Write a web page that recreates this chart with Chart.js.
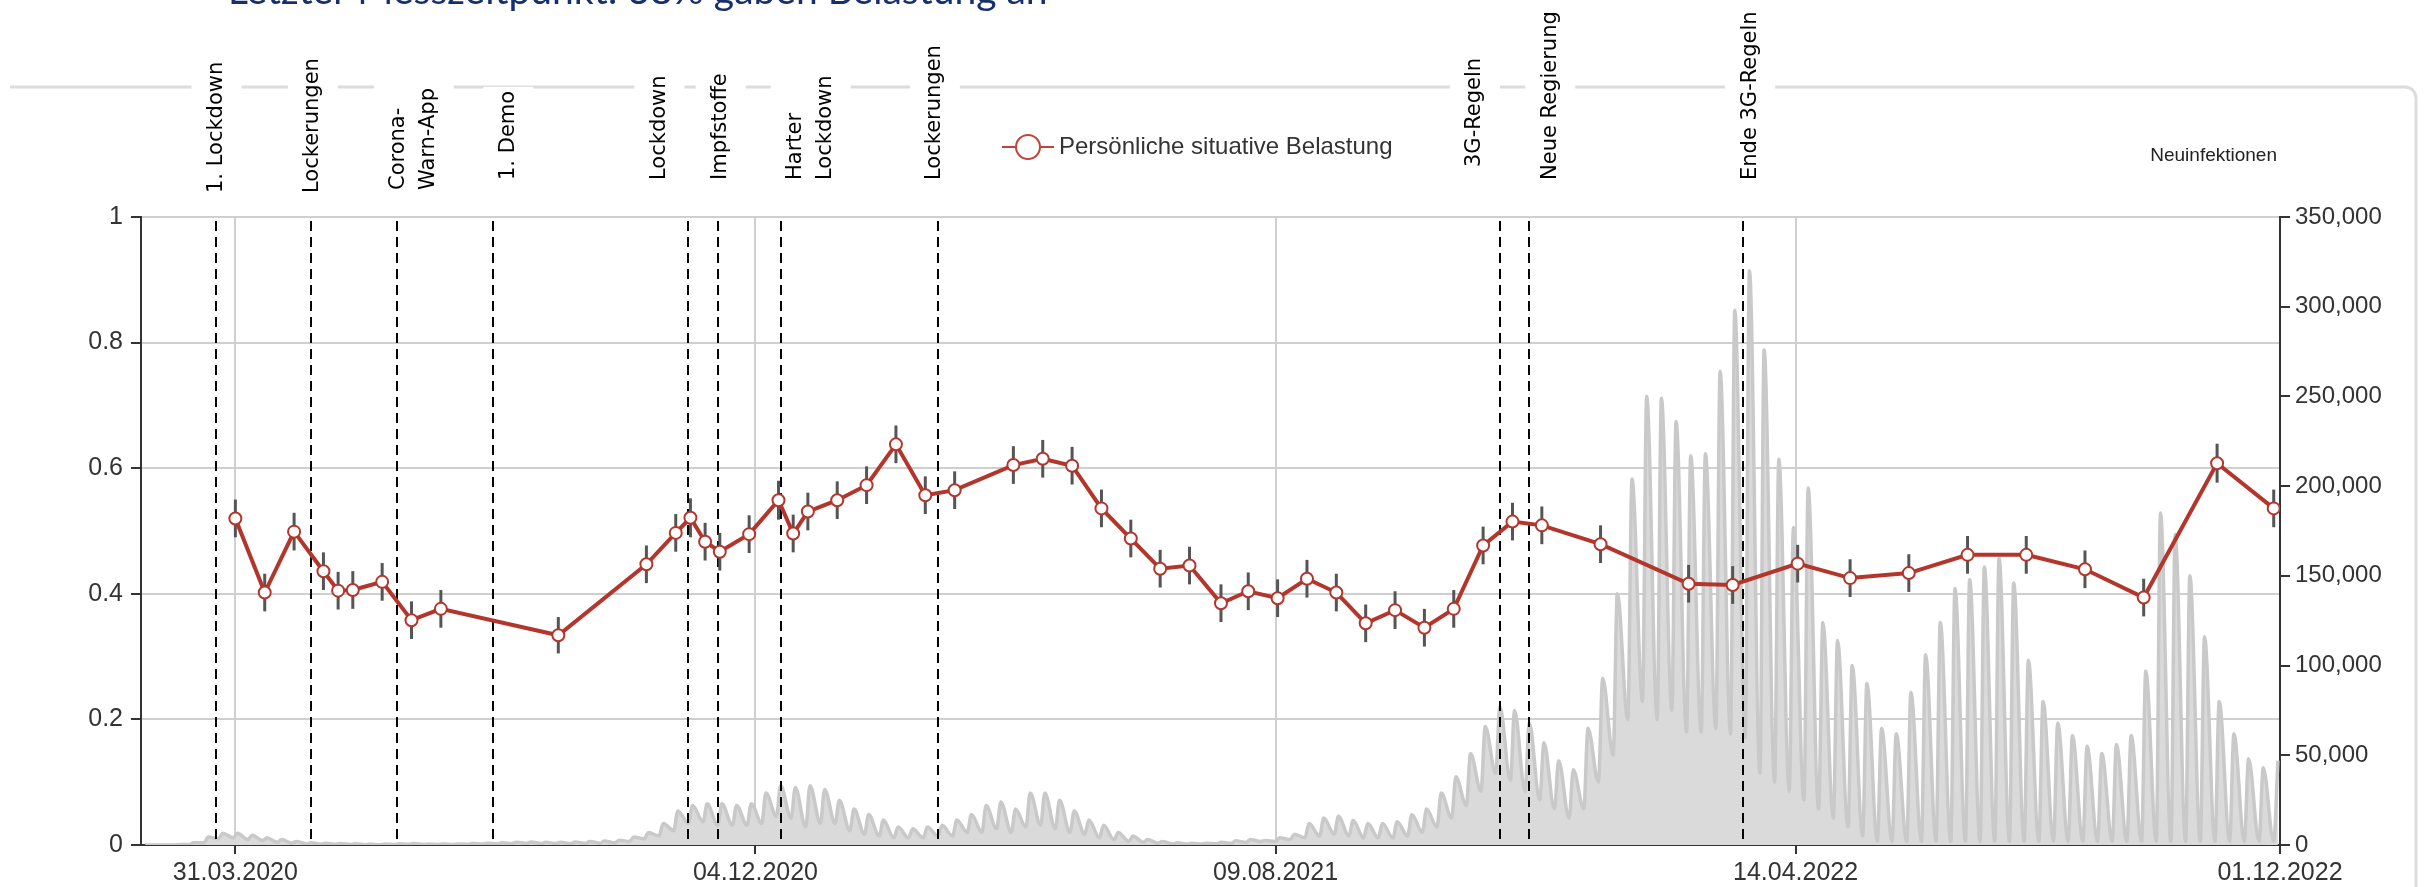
<!DOCTYPE html>
<html>
<head>
<meta charset="utf-8">
<script src="https://cdn.jsdelivr.net/npm/chart.js@4.4.1/dist/chart.umd.min.js"></script>
<style>
  html, body { margin: 0; padding: 0; background: #fff; overflow: hidden; }
  #wrap { position: relative; width: 2425px; height: 887px; }
</style>
</head>
<body>
<div id="wrap"><canvas id="c" width="2425" height="887"></canvas></div>
<script>
// Survey waves: date and share reporting a personal situational burden (with error margin)
const surveyDates = [
  '2020-03-31','2020-04-14','2020-04-28','2020-05-12','2020-05-19','2020-05-26','2020-06-09','2020-06-23','2020-07-07','2020-09-01',
  '2020-10-13','2020-10-27','2020-11-03','2020-11-10','2020-11-17','2020-12-01','2020-12-15','2020-12-22','2020-12-29','2021-01-12',
  '2021-01-26','2021-02-09','2021-02-23','2021-03-09','2021-04-06','2021-04-20','2021-05-04','2021-05-18','2021-06-01','2021-06-15',
  '2021-06-29','2021-07-14','2021-07-27','2021-08-10','2021-08-24','2021-09-07','2021-09-21','2021-10-05','2021-10-19','2021-11-02',
  '2021-11-16','2021-11-30','2021-12-14','2022-01-11','2022-02-22','2022-03-15','2022-04-15','2022-05-10','2022-06-07','2022-07-05',
  '2022-08-02','2022-08-30','2022-09-27','2022-11-01','2022-11-28'
];
const burden = [
  0.520,0.402,0.499,0.436,0.405,0.406,0.419,0.358,0.376,0.334,
  0.447,0.497,0.521,0.483,0.467,0.495,0.549,0.496,0.531,0.549,
  0.573,0.638,0.557,0.565,0.605,0.615,0.604,0.536,0.488,0.440,
  0.445,0.385,0.404,0.393,0.424,0.402,0.353,0.374,0.346,0.376,
  0.477,0.515,0.509,0.479,0.416,0.414,0.448,0.425,0.433,0.462,
  0.462,0.439,0.394,0.608,0.536
];
const burdenErr = [
  0.030,0.030,0.030,0.030,0.030,0.030,0.030,0.030,0.030,0.029,
  0.030,0.030,0.031,0.030,0.030,0.030,0.031,0.030,0.030,0.030,
  0.030,0.030,0.030,0.030,0.030,0.030,0.030,0.030,0.030,0.030,
  0.030,0.030,0.030,0.030,0.030,0.030,0.030,0.030,0.030,0.030,
  0.030,0.030,0.030,0.030,0.030,0.030,0.030,0.030,0.030,0.030,
  0.030,0.030,0.030,0.031,0.030
];

// Daily new infections, weekly low (Monday) and weekly high (Wednesday), in thousands
const infWeekStart = '2020-02-17';
const infLowK = [
  0,0,0.05,0.3,1.2,3.5,4,3,2.5,1.5,
  1,0.6,0.4,0.4,0.3,0.2,0.2,0.3,0.4,0.3,
  0.3,0.3,0.4,0.5,0.6,0.8,0.9,0.8,0.8,0.8,
  0.9,1,1.2,2,3.5,5,8,12,13,11,
  11,11,12,16,15,10,12,12,8,6,
  5,4,4,4,5,5,7,7,9,7,
  10,11,9,7,6,4,3,2,1.5,1,
  0.5,0.5,0.5,0.7,1,1.5,2,2,3,4,
  5,6,5,4,4,4,5,7,10,15,
  22,30,40,36,30,25,20,15,20,35,
  50,70,80,70,75,63,63,65,62,60,
  40,35,30,25,20,15,10,5,2,2,
  2,2,2,2,2,2,2,2,2,2,
  2,2,2,2,2,2,2,2,2,2,
  2,2,2,2,2,2
];
const infHighK = [
  0,0.05,0.2,1.2,4.5,6.5,6.5,5.5,4,3,
  2,1.3,1,0.8,0.7,0.5,0.5,0.7,0.8,0.5,
  0.5,0.6,0.8,1,1.2,1.5,1.7,1.6,1.5,1.7,
  2,2.2,2.6,4.5,7,12,19,22,23,23,
  22,23,29,33,32,33,31,25,20,17,
  14,10,9,10,11,14,17,22,24,20,
  29,29,25,19,14,11,7,5,3,2,
  1.2,1,1,1.6,2.3,3,2.5,4,6,12,
  15,16,13.7,12,12,13,17,20,29,38,
  51,66,77,75,68,57,47,42,65,93,
  140,204,250,249,236,217,218,264,298,320,
  276,215,177,199,124,114,100,90,65,62,
  85,106,124,143,148,155,160,146,103,80,
  68,61,55,51,56,61,97,185,173,150,
  116,80,62,48,43,47
];

// Political events marked in the timeline
const eventDates = ['2020-03-22','2020-05-06','2020-06-16','2020-08-01','2020-11-02','2020-11-16','2020-12-16','2021-03-01','2021-11-24','2021-12-08','2022-03-20'];
const eventLabels = [
  ['1. Lockdown'], ['Lockerungen'], ['Corona-', 'Warn-App'], ['1. Demo'], ['Lockdown'], ['Impfstoffe'],
  ['Harter', 'Lockdown'], ['Lockerungen'], ['3G-Regeln'], ['Neue Regierung'], ['Ende 3G-Regeln']
];

// Axis ticks
const xTickDates = ['2020-03-31','2020-12-04','2021-08-09','2022-04-14','2022-12-01'];
const xTickLabels = ['31.03.2020','04.12.2020','09.08.2021','14.04.2022','01.12.2022'];
const xRange = ['2020-02-15','2022-12-01'];
const yLeftTicks = [0, 0.2, 0.4, 0.6, 0.8, 1];
const yLeftLabels = ['0','0.2','0.4','0.6','0.8','1'];
const yRightTicks = [0, 50000, 100000, 150000, 200000, 250000, 300000, 350000];
const yRightLabels = ['0','50,000','100,000','150,000','200,000','250,000','300,000','350,000'];

const TITLE = 'Letzter Messzeitpunkt: 38% gaben Belastung an';
const SERIES_NAME = 'Persönliche situative Belastung';
const RIGHT_TITLE = 'Neuinfektionen';

// ---------------------------------------------------------------------------
const dayNum = s => Date.UTC(+s.slice(0, 4), +s.slice(5, 7) - 1, +s.slice(8, 10)) / 86400000;

const burdenPoints = surveyDates.map((d, i) => ({ x: dayNum(d), y: burden[i] }));
const infPoints = [];
const w0 = dayNum(infWeekStart);
infLowK.forEach((lo, i) => {
  infPoints.push({ x: w0 + 7 * i, y: lo * 1000 });
  infPoints.push({ x: w0 + 7 * i + 2, y: infHighK[i] * 1000 });
});

const RED = '#b3362c';
const FONT = '"Liberation Sans", Arial, sans-serif';

// styling of the event annotation labels (horizontal shift, text start height)
const labelShift = [0, 2, 17, 15, -29, 3, 30, -3, -25, 21, 7];
const labelBottom = [193, 193, 190, 180, 180, 180, 180, 180, 167, 180, 180];

const decor = {
  id: 'decor',
  beforeDraw(chart) {
    const ctx = chart.ctx;
    ctx.save();
    // panel outline
    ctx.strokeStyle = '#dcdcdc';
    ctx.lineWidth = 3;
    ctx.beginPath();
    ctx.moveTo(10, 87);
    ctx.lineTo(2405, 87);
    ctx.arcTo(2416, 87, 2416, 98, 11);
    ctx.lineTo(2416, 890);
    ctx.stroke();
    // headline
    ctx.fillStyle = '#17306c';
    ctx.font = '39px Lato, "Open Sans", sans-serif';
    ctx.textBaseline = 'alphabetic';
    ctx.textAlign = 'left';
    ctx.fillText(TITLE, 228, 4);
    ctx.restore();
  },
  afterDatasetDraw(chart, args) {
    if (args.index !== 0) return;
    const ctx = chart.ctx, xs = chart.scales.x, area = chart.chartArea;
    ctx.save();
    ctx.strokeStyle = '#000';
    ctx.lineWidth = 2;
    ctx.setLineDash([10, 6]);
    eventDates.forEach(d => {
      const x = Math.round(xs.getPixelForValue(dayNum(d)));
      ctx.beginPath();
      ctx.moveTo(x, area.top + 4);
      ctx.lineTo(x, area.bottom);
      ctx.stroke();
    });
    ctx.restore();
  },
  beforeDatasetDraw(chart, args) {
    if (args.index !== 1) return;
    const ctx = chart.ctx, xs = chart.scales.x, ys = chart.scales.y;
    ctx.save();
    ctx.strokeStyle = '#555';
    ctx.lineWidth = 3;
    burdenPoints.forEach((p, i) => {
      const x = xs.getPixelForValue(p.x);
      ctx.beginPath();
      ctx.moveTo(x, ys.getPixelForValue(p.y - burdenErr[i]));
      ctx.lineTo(x, ys.getPixelForValue(p.y + burdenErr[i]));
      ctx.stroke();
    });
    ctx.restore();
  },
  afterDraw(chart) {
    const ctx = chart.ctx, xs = chart.scales.x;
    ctx.save();
    // event annotations, written upwards
    ctx.font = '21px "DejaVu Sans", sans-serif';
    const gap = 30;
    eventDates.forEach((d, i) => {
      const lines = eventLabels[i];
      const n = lines.length;
      const cx = xs.getPixelForValue(dayNum(d)) + labelShift[i];
      const y0 = labelBottom[i];
      const len = Math.max(...lines.map(l => ctx.measureText(l).width));
      const thick = 22 + (n - 1) * gap;
      ctx.fillStyle = '#fff';
      ctx.fillRect(cx - thick / 2 - 14, y0 - len - 4, thick + 28, len + 8);
      ctx.save();
      ctx.translate(cx, y0);
      ctx.rotate(-Math.PI / 2);
      ctx.fillStyle = '#000';
      ctx.textAlign = 'left';
      ctx.textBaseline = 'middle';
      lines.forEach((l, j) => ctx.fillText(l, 0, (j - (n - 1) / 2) * gap));
      ctx.restore();
    });
    // legend entry
    const ly = 147;
    ctx.strokeStyle = '#c0443a';
    ctx.lineWidth = 2;
    ctx.beginPath();
    ctx.moveTo(1002, ly); ctx.lineTo(1054, ly);
    ctx.stroke();
    ctx.beginPath();
    ctx.arc(1028, ly, 12, 0, Math.PI * 2);
    ctx.fillStyle = '#fff';
    ctx.fill();
    ctx.stroke();
    ctx.fillStyle = '#333';
    ctx.font = '24px ' + FONT;
    ctx.textAlign = 'left';
    ctx.textBaseline = 'middle';
    ctx.fillText(SERIES_NAME, 1059, ly);
    // right axis caption
    ctx.font = '19px ' + FONT;
    ctx.textAlign = 'right';
    ctx.fillStyle = '#222';
    ctx.fillText(RIGHT_TITLE, 2277, 156);
    ctx.restore();
  }
};

const tickFont = { family: FONT, size: 25 };

new Chart(document.getElementById('c'), {
  type: 'line',
  data: {
    datasets: [
      {
        label: RIGHT_TITLE,
        data: infPoints,
        yAxisID: 'y1',
        borderColor: '#c9c9c9',
        borderWidth: 3.5,
        backgroundColor: '#dadada',
        fill: 'origin',
        pointRadius: 0,
        cubicInterpolationMode: 'monotone',
        order: 2
      },
      {
        label: SERIES_NAME,
        data: burdenPoints,
        yAxisID: 'y',
        borderColor: RED,
        borderWidth: 4,
        pointRadius: 6,
        pointBorderWidth: 2,
        pointBackgroundColor: '#fff',
        pointBorderColor: RED,
        tension: 0,
        order: 1
      }
    ]
  },
  options: {
    responsive: false,
    animation: false,
    devicePixelRatio: 1,
    layout: { padding: { top: 217, left: 0, right: 0, bottom: 0 } },
    plugins: { legend: { display: false }, tooltip: { enabled: false } },
    scales: {
      x: {
        type: 'linear',
        min: dayNum(xRange[0]),
        max: dayNum(xRange[1]),
        afterBuildTicks: s => { s.ticks = xTickDates.map(d => ({ value: dayNum(d) })); },
        afterFit: s => { s.height = 42; },
        ticks: {
          autoSkip: false, maxRotation: 0, padding: 4, color: '#333', font: tickFont,
          callback: (v, i) => xTickLabels[i]
        },
        grid: { color: '#d0d0d0', lineWidth: 2, tickColor: '#333', tickLength: 9 },
        border: { display: true, color: '#333', width: 2 }
      },
      y: {
        position: 'left',
        min: 0, max: 1,
        afterBuildTicks: s => { s.ticks = yLeftTicks.map(v => ({ value: v })); },
        afterFit: s => { s.width = 141; },
        ticks: { padding: 8, color: '#333', font: tickFont, callback: (v, i) => yLeftLabels[i] },
        grid: {
          color: c => (c.tick && c.tick.value === 0) ? 'rgba(0,0,0,0)' : '#cfcfcf',
          lineWidth: 2, tickColor: '#333', tickLength: 10
        },
        border: { display: true, color: '#333', width: 2 }
      },
      y1: {
        position: 'right',
        min: 0, max: 350000,
        afterBuildTicks: s => { s.ticks = yRightTicks.map(v => ({ value: v })); },
        afterFit: s => { s.width = 145; },
        ticks: { padding: 5, color: '#333', font: { family: FONT, size: 24 }, callback: (v, i) => yRightLabels[i] },
        grid: { drawOnChartArea: false, tickColor: '#333', tickLength: 10, lineWidth: 2 },
        border: { display: true, color: '#333', width: 2 }
      }
    }
  },
  plugins: [decor]
});
</script>
</body>
</html>
